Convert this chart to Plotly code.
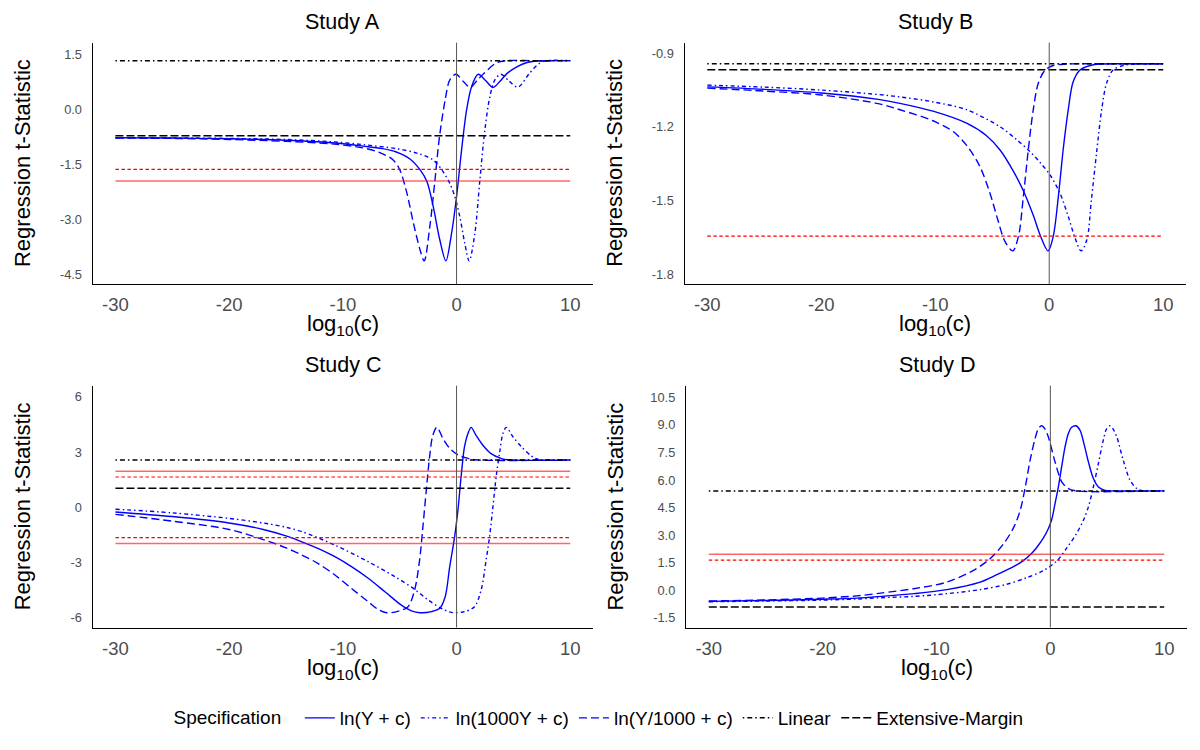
import plotly.graph_objects as go

# ---- data (x = log10(c), y = regression t-statistic) ----
STUDIES = ["Study A", "Study B", "Study C", "Study D"]

# Study A
A_solid_x = [-30, -25, -20, -15, -11, -8.2, -6.5, -5.3, -4.1, -3.2, -2.6, -2.05, -1.47, -0.94, -0.44, 0, 0.44, 0.88,
             1.32, 1.9, 2.55, 3.2, 3.8, 4.4, 5.3, 6.2, 7.0, 8.5, 10]
A_solid_y = [-0.78, -0.79, -0.81, -0.85, -0.92, -1.01, -1.08, -1.17, -1.36, -1.66, -1.98, -2.66, -3.57, -4.14, -3.39,
             -2.39, -1.12, -0.03, 0.61, 0.95, 0.78, 0.59, 0.75, 0.96, 1.15, 1.27, 1.31, 1.32, 1.32]
A_dd_x = [-30, -25, -20, -15, -11, -8.2, -5.3, -3.5, -2.05, -1.2, -0.6, -0.15, 0.29, 0.73, 1.11, 1.61, 2.05, 2.49,
          2.93, 3.36, 3.89, 4.6, 5.4, 6.4, 7.3, 7.9, 10]
A_dd_y = [-0.78, -0.785, -0.80, -0.83, -0.89, -0.97, -1.08, -1.2, -1.39, -1.7, -2.02, -2.39, -2.94, -3.67, -4.14,
          -3.39, -1.94, -0.57, 0.34, 0.79, 0.95, 0.77, 0.6, 0.97, 1.25, 1.32, 1.32]
A_dash_x = [-30, -25, -20, -15, -11, -8.2, -6.8, -5.6, -5.0, -4.4, -3.8, -3.2, -2.85, -2.35, -1.9, -1.5, -1.0, -0.6,
            -0.05, 0.6, 1.2, 1.8, 2.4, 3.5, 4.4, 7, 10]
A_dash_y = [-0.79, -0.80, -0.83, -0.88, -0.95, -1.06, -1.18, -1.38, -1.65, -2.25, -3.1, -3.85, -4.14, -3.2, -1.94,
            -0.75, 0.25, 0.79, 0.95, 0.75, 0.59, 0.78, 0.97, 1.26, 1.32, 1.32, 1.32]

# Study B
B_solid_x = [-30, -25, -20, -15, -13.1, -10.2, -7.25, -5.5, -4.3, -3.15, -2.27, -1.4, -0.8, -0.1, 0.35, 0.8, 1.23,
             1.67, 2.1, 2.7, 3.6, 4.45, 7, 10]
B_solid_y = [-1.037, -1.047, -1.062, -1.088, -1.104, -1.136, -1.185, -1.236, -1.295, -1.38, -1.46, -1.56, -1.64,
             -1.705, -1.646, -1.484, -1.29, -1.13, -1.016, -0.968, -0.95, -0.944, -0.943, -0.943]
B_dd_x = [-30, -25, -20, -15, -13.1, -10.2, -7.25, -4.3, -2.86, -1.7, -0.8, 0.06, 0.94, 1.67, 2.25, 2.8, 3.3, 3.7,
          4.15, 4.6, 5.03, 5.6, 6.5, 7.4, 10]
B_dd_y = [-1.03, -1.038, -1.05, -1.068, -1.078, -1.098, -1.13, -1.2, -1.252, -1.3, -1.345, -1.395, -1.47, -1.565,
          -1.65, -1.705, -1.66, -1.497, -1.307, -1.13, -1.022, -0.968, -0.95, -0.944, -0.943]
B_dash_x = [-30, -25, -20, -15, -13.1, -10.2, -8.4, -7.25, -6.1, -5.2, -4.5, -3.9, -3.2, -2.7, -2.27, -1.83, -1.4,
            -0.96, -0.38, 0.35, 1.5, 4, 10]
B_dash_y = [-1.042, -1.054, -1.07, -1.105, -1.13, -1.175, -1.22, -1.275, -1.36, -1.47, -1.58, -1.665, -1.705,
            -1.646, -1.484, -1.29, -1.13, -1.022, -0.97, -0.95, -0.944, -0.943, -0.943]

# Study C
C_solid_x = [-30, -25, -20, -17, -15, -13.6, -12.2, -10.7, -9.24, -7.77, -6.3, -4.85, -3.97, -3.2, -2.2, -1.48, -1.0,
             -0.6, -0.17, 0.12, 0.4, 0.7, 1.0, 1.28, 1.7, 2.3, 3.0, 3.9, 4.5, 10]
C_solid_y = [-0.25, -0.5, -0.85, -1.2, -1.55, -1.87, -2.23, -2.68, -3.22, -3.85, -4.58, -5.31, -5.62, -5.72, -5.66,
             -5.48, -4.85, -3.22, -1.6, -0.15, 1.66, 3.29, 4.0, 4.34, 3.92, 3.38, 2.93, 2.66, 2.58, 2.57]
C_dd_x = [-30, -25, -20, -17, -15, -13.6, -10.7, -7.77, -5.4, -3.69, -2.5, -1.34, -0.47, 0.7, 1.58, 2.16, 2.6, 2.9,
          3.2, 3.5, 3.8, 4.08, 4.37, 4.96, 5.7, 6.6, 7.2, 10]
C_dd_y = [-0.1, -0.3, -0.6, -0.85, -1.08, -1.32, -2.05, -2.95, -3.77, -4.45, -5.03, -5.48, -5.7, -5.66, -5.39, -4.49,
          -2.86, -1.6, 0.03, 1.75, 3.02, 4.01, 4.34, 3.83, 3.29, 2.78, 2.6, 2.57]
C_dash_x = [-30, -25, -20, -17, -15, -13.6, -12.2, -10.7, -9.24, -7.77, -6.9, -6.15, -5.1, -4.27, -3.69, -3.25, -2.96,
            -2.66, -2.37, -2.08, -1.73, -1.2, -0.6, 0.12, 1.0, 1.6, 10]
C_dash_y = [-0.38, -0.75, -1.2, -1.75, -2.2, -2.59, -3.04, -3.67, -4.4, -5.12, -5.54, -5.72, -5.63, -5.39, -4.49,
            -2.86, -1.05, 0.94, 2.75, 3.92, 4.34, 3.74, 3.2, 2.84, 2.66, 2.58, 2.57]

# Study D
D_solid_x = [-30, -25, -20, -17, -14.9, -12, -9.09, -6.17, -4.7, -3.2, -2.37, -1.72, -1.2, -0.61, -0.18, 0.12, 0.41,
             0.7, 0.99, 1.29, 1.58, 1.87, 2.25, 2.6, 2.95, 3.34, 3.78, 4.22, 4.8, 5.5, 10]
D_solid_y = [-0.6, -0.55, -0.48, -0.42, -0.33, -0.18, 0.04, 0.45, 0.85, 1.3, 1.62, 1.96, 2.33, 2.85, 3.35, 3.85, 4.72,
             5.62, 6.71, 7.8, 8.53, 8.87, 8.95, 8.71, 7.98, 6.99, 6.08, 5.62, 5.44, 5.41, 5.41]
D_dd_x = [-30, -25, -20, -17, -14.9, -12, -9.09, -6.17, -3.83, -2.08, -0.61, 0.56, 1.43, 2.3, 2.9, 3.34, 3.78, 4.22,
          4.65, 4.95, 5.24, 5.53, 5.83, 6.4, 7.0, 7.6, 8.2, 10]
D_dd_y = [-0.62, -0.58, -0.53, -0.47, -0.4, -0.33, -0.18, 0.04, 0.33, 0.69, 1.08, 1.6, 2.3, 3.09, 3.81, 4.54, 5.63,
          6.9, 8.17, 8.8, 8.95, 8.75, 8.35, 7.08, 5.99, 5.53, 5.41, 5.41]
D_dash_x = [-30, -25, -20, -17, -14.9, -12, -9.09, -6.75, -5.3, -4.1, -3.2, -2.65, -2.2, -1.78, -1.34, -1.05, -0.76,
            -0.45, -0.18, 0.41, 1.0, 1.58, 2.3, 10]
D_dash_y = [-0.58, -0.52, -0.42, -0.3, -0.15, 0.09, 0.45, 1.09, 1.72, 2.54, 3.45, 4.35, 5.63, 7.08, 8.26, 8.8, 8.95,
            8.75, 8.35, 6.99, 5.9, 5.53, 5.41, 5.41]

# benchmark t-statistics (Linear, Extensive-Margin) per study
linear_t = [1.32, -0.943, 2.57, 5.41]
extensive_t = [-0.73, -0.967, 1.03, -0.91]
# critical values drawn in each panel
crit_solid = [[-1.96], [], [-1.96, 1.96], [1.96]]
crit_dotted = [[-1.645], [-1.645], [-1.645, 1.645], [1.645]]

x_span = [-30, 10]
x_ticks = [-30, -20, -10, 0, 10]
y_ticks = [[-4.5, -3.0, -1.5, 0.0, 1.5], [-1.8, -1.5, -1.2, -0.9], [-6, -3, 0, 3, 6],
           [-1.5, 0.0, 1.5, 3.0, 4.5, 6.0, 7.5, 9.0, 10.5]]
y_ranges = [[-4.77, 1.81], [-1.84, -0.857], [-6.52, 6.6], [-2.02, 11.13]]
y_fmt = ["{:.1f}", "{:.1f}", "{:.0f}", "{:.1f}"]

specs = ["ln(Y + c)", "ln(1000Y + c)", "ln(Y/1000 + c)"]
curves = [
    [(A_solid_x, A_solid_y), (A_dd_x, A_dd_y), (A_dash_x, A_dash_y)],
    [(B_solid_x, B_solid_y), (B_dd_x, B_dd_y), (B_dash_x, B_dash_y)],
    [(C_solid_x, C_solid_y), (C_dd_x, C_dd_y), (C_dash_x, C_dash_y)],
    [(D_solid_x, D_solid_y), (D_dd_x, D_dd_y), (D_dash_x, D_dash_y)],
]

# ---- layout (pixel boxes of the four panels) ----
W, H = 1200, 750
boxes = [(92.7, 593.0, 42.7, 284.0), (684.5, 1186.0, 42.7, 284.0),
         (92.7, 593.0, 385.7, 627.5), (686.0, 1187.0, 385.7, 627.5)]
FONT = "Liberation Sans, Arial, sans-serif"
BLUE = "#0000FF"
spec_dash = ["solid", "4px,3px,1.5px,3px", "8px,4px"]

fig = go.Figure()
annotations = []
shapes = []

for i, (x0, x1, y0, y1) in enumerate(boxes):
    n = "" if i == 0 else str(i + 1)
    xa, ya = "x" + n, "y" + n

    for j, (cx, cy) in enumerate(curves[i]):
        fig.add_trace(go.Scatter(
            x=cx, y=cy, xaxis=xa, yaxis=ya, mode="lines", name=specs[j],
            line=dict(color=BLUE, width=1.4, dash=spec_dash[j], shape="spline", smoothing=0.9),
            legendgroup=specs[j], showlegend=(i == 0), legendrank=j + 1, hoverinfo="skip"))

    for v in crit_solid[i]:
        fig.add_trace(go.Scatter(x=x_span, y=[v, v], xaxis=xa, yaxis=ya, mode="lines",
                                 line=dict(color="rgba(255,0,0,0.6)", width=1.5), showlegend=False,
                                 hoverinfo="skip"))
    for v in crit_dotted[i]:
        fig.add_trace(go.Scatter(x=x_span, y=[v, v], xaxis=xa, yaxis=ya, mode="lines",
                                 line=dict(color="#FF0000", width=1.2, dash="3.5px,2.5px"), showlegend=False,
                                 hoverinfo="skip"))

    fig.add_trace(go.Scatter(x=x_span, y=[linear_t[i]] * 2, xaxis=xa, yaxis=ya, mode="lines", name="Linear",
                             line=dict(color="black", width=1.5, dash="1.5px,3px,5px,3px"),
                             legendgroup="Linear", showlegend=(i == 0), legendrank=4, hoverinfo="skip"))
    fig.add_trace(go.Scatter(x=x_span, y=[extensive_t[i]] * 2, xaxis=xa, yaxis=ya, mode="lines",
                             name="Extensive-Margin",
                             line=dict(color="black", width=1.5, dash="8px,3px"),
                             legendgroup="Extensive-Margin", showlegend=(i == 0), legendrank=5,
                             hoverinfo="skip"))

    shapes.append(dict(type="line", xref=xa, yref=ya + " domain", x0=0, x1=0, y0=0, y1=1,
                       line=dict(color="#555555", width=1), layer="above"))

    fig.layout["xaxis" + n] = dict(
        domain=[x0 / W, x1 / W], anchor=ya, range=[-32, 12], tickvals=x_ticks,
        ticktext=[str(t) for t in x_ticks], showgrid=False, zeroline=False, showline=True,
        linecolor="black", linewidth=1.3, ticks="", ticklabelstandoff=4,
        tickfont=dict(size=18.5, color="#4D4D4D", family=FONT))
    fig.layout["yaxis" + n] = dict(
        domain=[1 - y1 / H, 1 - y0 / H], anchor=xa, range=y_ranges[i], tickvals=y_ticks[i],
        ticktext=[y_fmt[i].format(t) for t in y_ticks[i]], showgrid=False, zeroline=False,
        showline=True, linecolor="black", linewidth=1.3, ticks="", ticklabelstandoff=7,
        tickfont=dict(size=12.8, color="#4D4D4D", family=FONT))

    cxp = (x0 + x1) / 2
    annotations.append(dict(text=STUDIES[i], x=cxp / W, y=1 - (y0 - 21) / H, xref="paper", yref="paper",
                            showarrow=False, xanchor="center", yanchor="middle",
                            font=dict(size=21.5, color="black", family=FONT)))
    annotations.append(dict(text="log<sub>10</sub>(c)", x=cxp / W, y=1 - (y1 + 41) / H, xref="paper",
                            yref="paper", showarrow=False, xanchor="center", yanchor="middle",
                            font=dict(size=22, color="black", family=FONT)))
    annotations.append(dict(text="Regression t-Statistic", x=(x0 - 70) / W, y=1 - (y0 + y1) / 2 / H,
                            xref="paper", yref="paper", showarrow=False, textangle=-90,
                            xanchor="center", yanchor="middle",
                            font=dict(size=22, color="black", family=FONT)))

fig.update_layout(
    width=W, height=H, margin=dict(l=0, r=0, t=0, b=0),
    paper_bgcolor="white", plot_bgcolor="white",
    font=dict(family=FONT, color="black"),
    annotations=annotations, shapes=shapes,
    legend=dict(orientation="h", x=0.5, xanchor="center", y=1 - 718 / H, yanchor="middle",
                title=dict(text="Specification  ", side="left", font=dict(size=19)),
                font=dict(size=19, family=FONT), itemwidth=30, traceorder="normal",
                bgcolor="rgba(0,0,0,0)"),
)

# the page body has a default 8px margin; drop it so the figure sits at the window's corner
fig.write_html("out.html", config={"displayModeBar": False},
               post_script="document.body.style.margin='0';")
